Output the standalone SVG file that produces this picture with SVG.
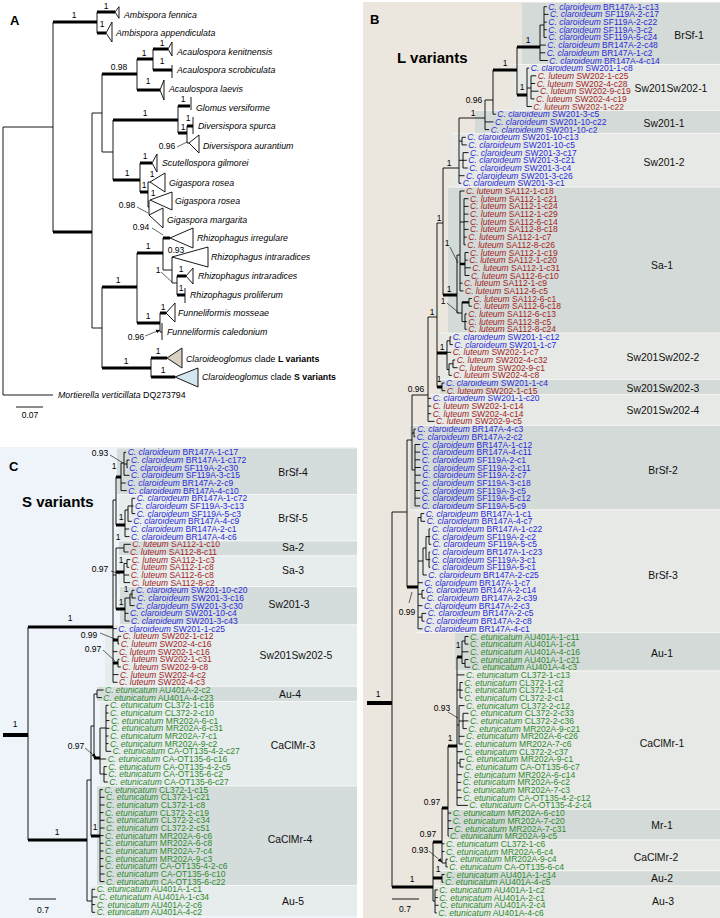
<svg xmlns="http://www.w3.org/2000/svg" width="720" height="918" viewBox="0 0 720 918">
<style>
.t{font-family:"Liberation Sans",Arial,Helvetica,sans-serif;font-size:8.5px}
.i{font-style:italic}
.cb{fill:#2a2ad8}.cr{fill:#a31f1f}.cg{fill:#2e8a2e}
.br{fill:none;stroke:#000;stroke-width:.9}
.tk{fill:none;stroke:#000;stroke-width:3}
.tk2{fill:none;stroke:#000;stroke-width:2.3}
.rt{fill:none;stroke:#000;stroke-width:4}
.ar{fill:none;stroke:#000;stroke-width:.6;marker-end:url(#ah)}
.sep{fill:none;stroke:#f6f6f4;stroke-width:1}
.s{font-family:"Liberation Sans",Arial,sans-serif;font-size:8.5px;text-anchor:middle;fill:#000}
.lab{font-family:"Liberation Sans",Arial,sans-serif;font-size:10.4px;text-anchor:middle;fill:#111}
.tx{font-family:"Liberation Sans",Arial,sans-serif;font-size:8.8px;fill:#000}
.pl{font-family:"Liberation Sans",Arial,sans-serif;font-weight:bold;font-size:13px}
.big{font-family:"Liberation Sans",Arial,sans-serif;font-weight:bold;font-size:15px}
.dk{fill:#d3dad7}.lt{fill:#e6e9e5}
.cdk{fill:#d5dcdc}.clt{fill:#e7ecec}
.tri{fill:#fff;stroke:#000;stroke-width:.9}
</style>
<defs>
<marker id="ah" viewBox="0 0 6 6" refX="6" refY="3" markerWidth="4" markerHeight="4" markerUnits="userSpaceOnUse" orient="auto"><path d="M0,0L6,3L0,6z"/></marker>
</defs>
<rect x="0" y="0" width="720" height="918" fill="#fff"/>
<rect x="363" y="2" width="357" height="916" fill="#ece7de"/>
<rect x="0" y="447" width="357" height="471" fill="#eef4f9"/>

<!-- PANEL A -->
<g id="panelA">
<text class="pl" x="10" y="25">A</text>
<g id="A-ambi-fen"><polygon class="tri" points="115,12 119,6.7 119,18.3"/><text class="tx i" x="124" y="18">Ambispora fennica</text></g>
<g id="A-ambi-app"><polygon class="tri" points="106,33 112,22 112,42"/><text class="tx i" x="116" y="36">Ambispora appendiculata</text></g>
<g id="A-acau-ken"><polygon class="tri" points="168,49 172,42 172,56"/><text class="tx i" x="177" y="55">Acaulospora kenitnensis</text></g>
<g id="A-acau-scr"><path class="br" d="M172 65V78"/><text class="tx i" x="177" y="73">Acaulospora scrobiculata</text></g>
<g id="A-acau-lae"><polygon class="tri" points="160,90 164,80 164,100"/><text class="tx i" x="169" y="92">Acaulospora laevis</text></g>
<g id="A-glom-ver"><path class="br" d="M191 97V110"/><text class="tx i" x="196" y="111">Glomus versiforme</text></g>
<g id="A-div-spu"><path class="br" d="M193 117V134"/><text class="tx i" x="198" y="129">Diversispora spurca</text></g>
<g id="A-div-aur"><polygon class="tri" points="189,143 199,135 199,153"/><text class="tx i" x="203" y="149">Diversispora aurantium</text></g>
<g id="A-scut-gil"><polygon class="tri" points="152,163 157,154 157,172"/><text class="tx i" x="162" y="166">Scutellospora gilmorei</text></g>
<g id="A-giga-ros1"><polygon class="tri" points="150,182 165,173 165,192"/><text class="tx i" x="169" y="186">Gigaspora rosea</text></g>
<g id="A-giga-ros2"><polygon class="tri" points="150,200 172,192 172,210"/><text class="tx i" x="175" y="204">Gigaspora rosea</text></g>
<g id="A-giga-mar"><polygon class="tri" points="149,215 163,208 163,228"/><text class="tx i" x="167" y="223">Gigaspora margarita</text></g>
<g id="A-rhiz-irr"><polygon class="tri" points="170,238 193,228 193,248"/><text class="tx i" x="197" y="241">Rhizophagus irregulare</text></g>
<g id="A-rhiz-int1"><polygon class="tri" points="172,257 208,247 208,267"/><text class="tx i" x="211" y="260">Rhizophagus intraradices</text></g>
<g id="A-rhiz-int2"><polygon class="tri" points="186,276 193,268 193,284"/><text class="tx i" x="198" y="279">Rhizophagus intraradices</text></g>
<g id="A-rhiz-pro"><path class="br" d="M185 288V303"/><text class="tx i" x="190" y="298">Rhizophagus proliferum</text></g>
<g id="A-funn-mos"><polygon class="tri" points="166,313 175,303 175,322"/><text class="tx i" x="178" y="316">Funneliformis mosseae</text></g>
<g id="A-funn-cal"><path class="br" d="M162 323V340"/><text class="tx i" x="167" y="335">Funneliformis caledonium</text></g>
<g id="A-clar-L"><polygon points="167,358 182,348 182,368" fill="#d9d0c3" stroke="#000" stroke-width=".9"/><text class="tx" x="186" y="362"><tspan class="i">Claroideoglomus</tspan> clade <tspan font-weight="bold">L variants</tspan></text></g>
<g id="A-clar-S"><polygon points="175,377 198,368 198,387" fill="#d4e7f1" stroke="#000" stroke-width=".9"/><text class="tx" x="202" y="380"><tspan class="i">Claroideoglomus</tspan> clade <tspan font-weight="bold">S variants</tspan></text></g>
<g id="A-mort"><text class="tx" x="58" y="398"><tspan class="i">Mortierella verticillata</tspan> DQ273794</text></g>
<g id="A-scale"><path class="br" d="M16 407H43"/><text class="s" x="30" y="418">0.07</text></g>
</g>

<!-- PANEL B bands/labels/leaves -->
<g id="panelB">
<text class="pl" x="370" y="24">B</text>
<text class="big" x="397" y="62.5">L variants</text>
<g id="B-BrSf-1"><rect class="dk" x="522" y="3" width="198" height="61"/><text class="lab" x="689" y="38.7">BrSf-1</text>
<text class="t cb" x="548.3" y="9.7"><tspan class="i">C. claroideum</tspan> BR147A-1-c13</text>
<text class="t cb" x="550" y="17.4"><tspan class="i">C. claroideum</tspan> SF119A-2-c17</text>
<text class="t cb" x="548.3" y="25.1"><tspan class="i">C. claroideum</tspan> SF119A-2-c22</text>
<text class="t cb" x="548.3" y="32.7"><tspan class="i">C. claroideum</tspan> SF119A-3-c2</text>
<text class="t cb" x="548.3" y="40.4"><tspan class="i">C. claroideum</tspan> SF119A-5-c24</text>
<text class="t cb" x="547.3" y="48.1"><tspan class="i">C. claroideum</tspan> BR147A-2-c48</text>
<text class="t cb" x="546.7" y="55.8"><tspan class="i">C. claroideum</tspan> BR147A-1-c2</text>
<text class="t cb" x="549.3" y="63.5"><tspan class="i">C. claroideum</tspan> BR147A-4-c14</text></g>
<g id="B-Sw201Sw202-1"><rect class="lt" x="513" y="64.8" width="207" height="45.2"/><text class="lab" x="671" y="91.7">Sw201Sw202-1</text>
<text class="t cb" x="530.7" y="71.1"><tspan class="i">C. claroideum</tspan> SW201-1-c8</text>
<text class="t cr" x="537.7" y="78.8"><tspan class="i">C. luteum</tspan> SW202-1-c25</text>
<text class="t cr" x="536.7" y="86.5"><tspan class="i">C. luteum</tspan> SW202-4-c28</text>
<text class="t cr" x="540" y="94.2"><tspan class="i">C. luteum</tspan> SW202-9-c19</text>
<text class="t cr" x="536" y="101.9"><tspan class="i">C. luteum</tspan> SW202-4-c19</text>
<text class="t cr" x="533.3" y="109.5"><tspan class="i">C. luteum</tspan> SW202-1-c22</text></g>
<g id="B-Sw201-1"><rect class="dk" x="475" y="110.6" width="245" height="22.4"/><text class="lab" x="664" y="126.7">Sw201-1</text>
<text class="t cb" x="497.3" y="117.2"><tspan class="i">C. claroideum</tspan> SW201-3-c5</text>
<text class="t cb" x="495" y="124.9"><tspan class="i">C. claroideum</tspan> SW201-10-c22</text>
<text class="t cb" x="490.7" y="132.6"><tspan class="i">C. claroideum</tspan> SW201-10-c2</text></g>
<g id="B-Sw201-2"><rect class="lt" x="452" y="133.6" width="268" height="53.2"/><text class="lab" x="664" y="165.7">Sw201-2</text>
<text class="t cb" x="467.3" y="140.3"><tspan class="i">C. claroideum</tspan> SW201-10-c13</text>
<text class="t cb" x="468.3" y="147.9"><tspan class="i">C. claroideum</tspan> SW201-10-c5</text>
<text class="t cb" x="470" y="155.6"><tspan class="i">C. claroideum</tspan> SW201-3-c17</text>
<text class="t cb" x="468.3" y="163.3"><tspan class="i">C. claroideum</tspan> SW201-3-c21</text>
<text class="t cb" x="469.3" y="171"><tspan class="i">C. claroideum</tspan> SW201-3-c4</text>
<text class="t cb" x="466" y="178.7"><tspan class="i">C. claroideum</tspan> SW201-3-c26</text>
<text class="t cb" x="462.7" y="186.3"><tspan class="i">C. claroideum</tspan> SW201-3-c1</text></g>
<g id="B-Sa-1"><rect class="dk" x="448" y="187.4" width="272" height="145.4"/><text class="lab" x="662" y="268.7">Sa-1</text>
<text class="t cr" x="466" y="194"><tspan class="i">C. luteum</tspan> SA112-1-c18</text>
<text class="t cr" x="470" y="201.7"><tspan class="i">C. luteum</tspan> SA112-1-c21</text>
<text class="t cr" x="470" y="209.4"><tspan class="i">C. luteum</tspan> SA112-1-c24</text>
<text class="t cr" x="470" y="217.1"><tspan class="i">C. luteum</tspan> SA112-1-c29</text>
<text class="t cr" x="470" y="224.7"><tspan class="i">C. luteum</tspan> SA112-6-c14</text>
<text class="t cr" x="470" y="232.4"><tspan class="i">C. luteum</tspan> SA112-8-c18</text>
<text class="t cr" x="468.3" y="240.1"><tspan class="i">C. luteum</tspan> SA112-1-c7</text>
<text class="t cr" x="467.3" y="247.8"><tspan class="i">C. luteum</tspan> SA112-8-c26</text>
<text class="t cr" x="470" y="255.5"><tspan class="i">C. luteum</tspan> SA112-1-c19</text>
<text class="t cr" x="469.3" y="263.1"><tspan class="i">C. luteum</tspan> SA112-1-c20</text>
<text class="t cr" x="472.3" y="270.8"><tspan class="i">C. luteum</tspan> SA112-1-c31</text>
<text class="t cr" x="471" y="278.5"><tspan class="i">C. luteum</tspan> SA112-6-c10</text>
<text class="t cr" x="464" y="286.2"><tspan class="i">C. luteum</tspan> SA112-1-c9</text>
<text class="t cr" x="465" y="293.9"><tspan class="i">C. luteum</tspan> SA112-6-c5</text>
<text class="t cr" x="473.3" y="301.5"><tspan class="i">C. luteum</tspan> SA112-6-c1</text>
<text class="t cr" x="473.3" y="309.2"><tspan class="i">C. luteum</tspan> SA112-6-c18</text>
<text class="t cr" x="468.3" y="316.9"><tspan class="i">C. luteum</tspan> SA112-6-c13</text>
<text class="t cr" x="468.3" y="324.6"><tspan class="i">C. luteum</tspan> SA112-8-c5</text>
<text class="t cr" x="468.3" y="332.3"><tspan class="i">C. luteum</tspan> SA112-8-c24</text></g>
<g id="B-Sw201Sw202-2"><rect class="lt" x="440" y="333.4" width="280" height="45.6"/><text class="lab" x="663" y="360.7">Sw201Sw202-2</text>
<text class="t cb" x="452.7" y="339.9"><tspan class="i">C. claroideum</tspan> SW201-1-c12</text>
<text class="t cb" x="454.3" y="347.6"><tspan class="i">C. claroideum</tspan> SW201-1-c7</text>
<text class="t cr" x="452.7" y="355.3"><tspan class="i">C. luteum</tspan> SW202-1-c7</text>
<text class="t cr" x="456.7" y="363"><tspan class="i">C. luteum</tspan> SW202-4-c32</text>
<text class="t cr" x="459" y="370.7"><tspan class="i">C. luteum</tspan> SW202-9-c1</text>
<text class="t cr" x="453.3" y="378.3"><tspan class="i">C. luteum</tspan> SW202-4-c8</text></g>
<g id="B-Sw201Sw202-3"><rect class="dk" x="440" y="379.6" width="280" height="14.8"/><text class="lab" x="663" y="391.7">Sw201Sw202-3</text>
<text class="t cb" x="446" y="386"><tspan class="i">C. claroideum</tspan> SW201-1-c4</text>
<text class="t cr" x="446.7" y="393.7"><tspan class="i">C. luteum</tspan> SW202-1-c15</text></g>
<g id="B-Sw201Sw202-4"><rect class="lt" x="430" y="395" width="290" height="30"/><text class="lab" x="663" y="413.7">Sw201Sw202-4</text>
<text class="t cb" x="432.7" y="401.4"><tspan class="i">C. claroideum</tspan> SW201-1-c20</text>
<text class="t cr" x="432.7" y="409.1"><tspan class="i">C. luteum</tspan> SW202-1-c14</text>
<text class="t cr" x="432.7" y="416.7"><tspan class="i">C. luteum</tspan> SW202-4-c14</text>
<text class="t cr" x="436" y="424.4"><tspan class="i">C. luteum</tspan> SW202-9-c5</text></g>
<g id="B-BrSf-2"><rect class="dk" x="410" y="425.6" width="310" height="84"/><text class="lab" x="663" y="473.7">BrSf-2</text>
<text class="t cb" x="417.3" y="432.1"><tspan class="i">C. claroideum</tspan> BR147A-4-c3</text>
<text class="t cb" x="416.7" y="439.8"><tspan class="i">C. claroideum</tspan> BR147A-2-c2</text>
<text class="t cb" x="421.7" y="447.5"><tspan class="i">C. claroideum</tspan> BR147A-1-c12</text>
<text class="t cb" x="421.7" y="455.1"><tspan class="i">C. claroideum</tspan> BR147A-4-c11</text>
<text class="t cb" x="421.7" y="462.8"><tspan class="i">C. claroideum</tspan> SF119A-2-c1</text>
<text class="t cb" x="422.3" y="470.5"><tspan class="i">C. claroideum</tspan> SF119A-2-c11</text>
<text class="t cb" x="422.3" y="478.2"><tspan class="i">C. claroideum</tspan> SF119A-2-c7</text>
<text class="t cb" x="421.7" y="485.9"><tspan class="i">C. claroideum</tspan> SF119A-3-c18</text>
<text class="t cb" x="421.7" y="493.5"><tspan class="i">C. claroideum</tspan> SF119A-3-c5</text>
<text class="t cb" x="421.7" y="501.2"><tspan class="i">C. claroideum</tspan> SF119A-5-c12</text>
<text class="t cb" x="421.7" y="508.9"><tspan class="i">C. claroideum</tspan> SF119A-5-c9</text></g>
<g id="B-BrSf-3"><rect class="lt" x="415" y="510.2" width="305" height="122"/><text class="lab" x="663" y="578.7">BrSf-3</text>
<text class="t cb" x="425.7" y="516.6"><tspan class="i">C. claroideum</tspan> BR147A-1-c1</text>
<text class="t cb" x="426.7" y="524.3"><tspan class="i">C. claroideum</tspan> BR147A-4-c7</text>
<text class="t cb" x="431.7" y="531.9"><tspan class="i">C. claroideum</tspan> BR147A-1-c22</text>
<text class="t cb" x="431.7" y="539.6"><tspan class="i">C. claroideum</tspan> SF119A-2-c2</text>
<text class="t cb" x="432.7" y="547.3"><tspan class="i">C. claroideum</tspan> SF119A-5-c5</text>
<text class="t cb" x="431.7" y="555"><tspan class="i">C. claroideum</tspan> BR147A-1-c23</text>
<text class="t cb" x="431.7" y="562.7"><tspan class="i">C. claroideum</tspan> SF119A-3-c1</text>
<text class="t cb" x="431.7" y="570.3"><tspan class="i">C. claroideum</tspan> SF119A-5-c1</text>
<text class="t cb" x="428.3" y="578"><tspan class="i">C. claroideum</tspan> BR147A-2-c25</text>
<text class="t cb" x="424.3" y="585.7"><tspan class="i">C. claroideum</tspan> BR147A-1-c7</text>
<text class="t cb" x="425.7" y="593.4"><tspan class="i">C. claroideum</tspan> BR147A-2-c14</text>
<text class="t cb" x="426.7" y="601.1"><tspan class="i">C. claroideum</tspan> BR147A-2-c39</text>
<text class="t cb" x="424" y="608.7"><tspan class="i">C. claroideum</tspan> BR147A-2-c3</text>
<text class="t cb" x="427.7" y="616.4"><tspan class="i">C. claroideum</tspan> BR147A-2-c5</text>
<text class="t cb" x="426" y="624.1"><tspan class="i">C. claroideum</tspan> BR147A-2-c8</text>
<text class="t cb" x="424" y="631.8"><tspan class="i">C. claroideum</tspan> BR147A-4-c1</text></g>
<g id="B-Au-1"><rect class="dk" x="455" y="633" width="265" height="37.6"/><text class="lab" x="662" y="656.7">Au-1</text>
<text class="t cg" x="470" y="639.5"><tspan class="i">C. etunicatum</tspan> AU401A-1-c11</text>
<text class="t cg" x="470" y="647.1"><tspan class="i">C. etunicatum</tspan> AU401A-1-c4</text>
<text class="t cg" x="470" y="654.8"><tspan class="i">C. etunicatum</tspan> AU401A-4-c16</text>
<text class="t cg" x="470" y="662.5"><tspan class="i">C. etunicatum</tspan> AU401A-1-c21</text>
<text class="t cg" x="471.7" y="670.2"><tspan class="i">C. etunicatum</tspan> AU401A-4-c3</text></g>
<g id="B-CaClMr-1"><rect class="lt" x="455" y="671.4" width="265" height="137.6"/><text class="lab" x="662" y="746.7">CaClMr-1</text>
<text class="t cg" x="466" y="677.9"><tspan class="i">C. etunicatum</tspan> CL372-1-c13</text>
<text class="t cg" x="464.3" y="685.5"><tspan class="i">C. etunicatum</tspan> CL372-1-c2</text>
<text class="t cg" x="464.3" y="693.2"><tspan class="i">C. etunicatum</tspan> CL372-1-c4</text>
<text class="t cg" x="464.3" y="700.9"><tspan class="i">C. etunicatum</tspan> CL372-2-c1</text>
<text class="t cg" x="466" y="708.6"><tspan class="i">C. etunicatum</tspan> CL372-2-c12</text>
<text class="t cg" x="470" y="716.3"><tspan class="i">C. etunicatum</tspan> CL372-2-c33</text>
<text class="t cg" x="470" y="723.9"><tspan class="i">C. etunicatum</tspan> CL372-2-c36</text>
<text class="t cg" x="468.3" y="731.6"><tspan class="i">C. etunicatum</tspan> MR202A-9-c21</text>
<text class="t cg" x="466" y="739.3"><tspan class="i">C. etunicatum</tspan> MR202A-6-c26</text>
<text class="t cg" x="464.3" y="747"><tspan class="i">C. etunicatum</tspan> MR202A-7-c6</text>
<text class="t cg" x="464.3" y="754.7"><tspan class="i">C. etunicatum</tspan> CL372-2-c37</text>
<text class="t cg" x="466" y="762.3"><tspan class="i">C. etunicatum</tspan> MR202A-9-c1</text>
<text class="t cg" x="465" y="770"><tspan class="i">C. etunicatum</tspan> CA-OT135-6-c7</text>
<text class="t cg" x="463.3" y="777.7"><tspan class="i">C. etunicatum</tspan> MR202A-6-c14</text>
<text class="t cg" x="462.7" y="785.4"><tspan class="i">C. etunicatum</tspan> MR202A-6-c2</text>
<text class="t cg" x="462.7" y="793.1"><tspan class="i">C. etunicatum</tspan> MR202A-7-c3</text>
<text class="t cg" x="463.3" y="800.7"><tspan class="i">C. etunicatum</tspan> CA-OT135-4-2-c12</text>
<text class="t cg" x="469.3" y="808.4"><tspan class="i">C. etunicatum</tspan> CA-OT135-4-2-c4</text></g>
<g id="B-Mr-1"><rect class="dk" x="448" y="809.6" width="272" height="30"/><text class="lab" x="662" y="828.7">Mr-1</text>
<text class="t cg" x="452.7" y="816.1"><tspan class="i">C. etunicatum</tspan> MR202A-6-c10</text>
<text class="t cg" x="452.7" y="823.8"><tspan class="i">C. etunicatum</tspan> MR202A-7-c20</text>
<text class="t cg" x="454.3" y="831.5"><tspan class="i">C. etunicatum</tspan> MR202A-7-c31</text>
<text class="t cg" x="450" y="839.1"><tspan class="i">C. etunicatum</tspan> MR202A-9-c5</text></g>
<g id="B-CaClMr-2"><rect class="lt" x="440" y="840.3" width="280" height="30"/><text class="lab" x="656" y="860.7">CaClMr-2</text>
<text class="t cg" x="446" y="846.8"><tspan class="i">C. etunicatum</tspan> CL372-1-c6</text>
<text class="t cg" x="446" y="854.5"><tspan class="i">C. etunicatum</tspan> MR202A-6-c4</text>
<text class="t cg" x="449.3" y="862.2"><tspan class="i">C. etunicatum</tspan> MR202A-9-c4</text>
<text class="t cg" x="449.3" y="869.9"><tspan class="i">C. etunicatum</tspan> CA-OT135-6-c4</text></g>
<g id="B-Au-2"><rect class="dk" x="440" y="871" width="280" height="14.7"/><text class="lab" x="662" y="881.7">Au-2</text>
<text class="t cg" x="446" y="877.5"><tspan class="i">C. etunicatum</tspan> AU401A-1-c14</text>
<text class="t cg" x="445" y="885.2"><tspan class="i">C. etunicatum</tspan> AU401A-4-c5</text></g>
<g id="B-Au-3"><rect class="lt" x="432" y="886.4" width="288" height="31.6"/><text class="lab" x="663" y="904.7">Au-3</text>
<text class="t cg" x="439.3" y="892.9"><tspan class="i">C. etunicatum</tspan> AU401A-1-c2</text>
<text class="t cg" x="439.3" y="900.6"><tspan class="i">C. etunicatum</tspan> AU401A-2-c1</text>
<text class="t cg" x="440" y="908.3"><tspan class="i">C. etunicatum</tspan> AU401A-2-c4</text>
<text class="t cg" x="438.3" y="915.9"><tspan class="i">C. etunicatum</tspan> AU401A-4-c6</text></g>
<g id="B-scale"><path class="br" d="M392 899H419"/><text class="s" x="405" y="912">0.7</text></g>
</g>

<!-- PANEL C -->
<g id="panelC">
<text class="pl" x="9" y="471">C</text>
<text class="big" x="22" y="507">S variants</text>
<g id="C-BrSf-4"><rect class="cdk" x="117" y="448.5" width="240" height="45.7"/><text class="lab" x="293" y="475.7">BrSf-4</text>
<text class="t cb" x="127.7" y="455.3"><tspan class="i">C. claroideum</tspan> BR147A-1-c17</text>
<text class="t cb" x="131" y="463"><tspan class="i">C. claroideum</tspan> BR147A-1-c172</text>
<text class="t cb" x="129.3" y="470.6"><tspan class="i">C. claroideum</tspan> SF119A-2-c30</text>
<text class="t cb" x="131" y="478.3"><tspan class="i">C. claroideum</tspan> SF119A-3-c15</text>
<text class="t cb" x="127.3" y="486"><tspan class="i">C. claroideum</tspan> BR147A-2-c9</text>
<text class="t cb" x="128.3" y="493.6"><tspan class="i">C. claroideum</tspan> BR147A-4-c10</text></g>
<g id="C-BrSf-5"><rect class="clt" x="119" y="494.8" width="238" height="45.7"/><text class="lab" x="293" y="521.7">BrSf-5</text>
<text class="t cb" x="136.7" y="501.3"><tspan class="i">C. claroideum</tspan> BR147A-1-c72</text>
<text class="t cb" x="135" y="509"><tspan class="i">C. claroideum</tspan> SF119A-3-c13</text>
<text class="t cb" x="136.7" y="516.6"><tspan class="i">C. claroideum</tspan> SF119A-5-c3</text>
<text class="t cb" x="133.3" y="524.3"><tspan class="i">C. claroideum</tspan> BR147A-4-c9</text>
<text class="t cb" x="130.7" y="532"><tspan class="i">C. claroideum</tspan> BR147A-2-c1</text>
<text class="t cb" x="131" y="539.6"><tspan class="i">C. claroideum</tspan> BR147A-4-c6</text></g>
<g id="C-Sa-2"><rect class="cdk" x="119" y="541.1" width="238" height="14.5"/><text class="lab" x="293" y="550.7">Sa-2</text>
<text class="t cr" x="132.3" y="547.3"><tspan class="i">C. luteum</tspan> SA112-1-c10</text>
<text class="t cr" x="130" y="555"><tspan class="i">C. luteum</tspan> SA112-8-c11</text></g>
<g id="C-Sa-3"><rect class="clt" x="119" y="556.1" width="238" height="30.2"/><text class="lab" x="293" y="573.7">Sa-3</text>
<text class="t cr" x="131.7" y="562.6"><tspan class="i">C. luteum</tspan> SA112-1-c3</text>
<text class="t cr" x="130.7" y="570.3"><tspan class="i">C. luteum</tspan> SA112-1-c8</text>
<text class="t cr" x="130.7" y="578"><tspan class="i">C. luteum</tspan> SA112-6-c8</text>
<text class="t cr" x="131.7" y="585.6"><tspan class="i">C. luteum</tspan> SA112-8-c2</text></g>
<g id="C-Sw201-3"><rect class="cdk" x="120" y="586.8" width="237" height="37.7"/><text class="lab" x="289" y="607.7">Sw201-3</text>
<text class="t cb" x="136" y="593.3"><tspan class="i">C. claroideum</tspan> SW201-10-c20</text>
<text class="t cb" x="137.3" y="601"><tspan class="i">C. claroideum</tspan> SW201-3-c16</text>
<text class="t cb" x="136" y="608.6"><tspan class="i">C. claroideum</tspan> SW201-3-c30</text>
<text class="t cb" x="130" y="616.3"><tspan class="i">C. claroideum</tspan> SW201-10-c4</text>
<text class="t cb" x="131" y="624"><tspan class="i">C. claroideum</tspan> SW201-3-c43</text></g>
<g id="C-Sw201Sw202-5"><rect class="clt" x="105" y="625.1" width="252" height="60.8"/><text class="lab" x="296" y="658.7">Sw201Sw202-5</text>
<text class="t cb" x="118.3" y="631.6"><tspan class="i">C. claroideum</tspan> SW201-1-c25</text>
<text class="t cr" x="122.7" y="639.3"><tspan class="i">C. luteum</tspan> SW202-1-c12</text>
<text class="t cr" x="120.7" y="647"><tspan class="i">C. luteum</tspan> SW202-4-c16</text>
<text class="t cr" x="119" y="654.6"><tspan class="i">C. luteum</tspan> SW202-1-c16</text>
<text class="t cr" x="121" y="662.3"><tspan class="i">C. luteum</tspan> SW202-1-c31</text>
<text class="t cr" x="122.3" y="670"><tspan class="i">C. luteum</tspan> SW202-9-c8</text>
<text class="t cr" x="120" y="677.6"><tspan class="i">C. luteum</tspan> SW202-4-c2</text>
<text class="t cr" x="119" y="685.3"><tspan class="i">C. luteum</tspan> SW202-4-c3</text></g>
<g id="C-Au-4"><rect class="cdk" x="97" y="686.5" width="260" height="14.7"/><text class="lab" x="290" y="697.7">Au-4</text>
<text class="t cg" x="105" y="693"><tspan class="i">C. etunicatum</tspan> AU401A-2-c2</text>
<text class="t cg" x="103.3" y="700.6"><tspan class="i">C. etunicatum</tspan> AU401A-4-c23</text></g>
<g id="C-CaClMr-3"><rect class="clt" x="100" y="701.8" width="257" height="83.7"/><text class="lab" x="293" y="748.7">CaClMr-3</text>
<text class="t cg" x="110" y="708.3"><tspan class="i">C. etunicatum</tspan> CL372-1-c16</text>
<text class="t cg" x="110" y="716"><tspan class="i">C. etunicatum</tspan> CL372-2-c10</text>
<text class="t cg" x="111" y="723.6"><tspan class="i">C. etunicatum</tspan> MR202A-6-c1</text>
<text class="t cg" x="111" y="731.3"><tspan class="i">C. etunicatum</tspan> MR202A-6-c31</text>
<text class="t cg" x="110" y="739"><tspan class="i">C. etunicatum</tspan> MR202A-7-c1</text>
<text class="t cg" x="110" y="746.6"><tspan class="i">C. etunicatum</tspan> MR202A-9-c2</text>
<text class="t cg" x="112.7" y="754.3"><tspan class="i">C. etunicatum</tspan> CA-OT135-4-2-c27</text>
<text class="t cg" x="107.7" y="762"><tspan class="i">C. etunicatum</tspan> CA-OT135-6-c16</text>
<text class="t cg" x="108.3" y="769.6"><tspan class="i">C. etunicatum</tspan> CA-OT135-4-2-c5</text>
<text class="t cg" x="108.3" y="777.3"><tspan class="i">C. etunicatum</tspan> CA-OT135-6-c2</text>
<text class="t cg" x="109.3" y="785"><tspan class="i">C. etunicatum</tspan> CA-OT135-6-c27</text></g>
<g id="C-CaClMr-4"><rect class="cdk" x="97" y="786.1" width="260" height="99.1"/><text class="lab" x="290" y="842.7">CaClMr-4</text>
<text class="t cg" x="104.3" y="792.6"><tspan class="i">C. etunicatum</tspan> CL372-1-c15</text>
<text class="t cg" x="106" y="800.3"><tspan class="i">C. etunicatum</tspan> CL372-1-c21</text>
<text class="t cg" x="106" y="808"><tspan class="i">C. etunicatum</tspan> CL372-1-c8</text>
<text class="t cg" x="105" y="815.6"><tspan class="i">C. etunicatum</tspan> CL372-2-c19</text>
<text class="t cg" x="106" y="823.3"><tspan class="i">C. etunicatum</tspan> CL372-2-c34</text>
<text class="t cg" x="106" y="831"><tspan class="i">C. etunicatum</tspan> CL372-2-c51</text>
<text class="t cg" x="105" y="838.6"><tspan class="i">C. etunicatum</tspan> MR202A-6-c6</text>
<text class="t cg" x="105" y="846.3"><tspan class="i">C. etunicatum</tspan> MR202A-6-c8</text>
<text class="t cg" x="105" y="854"><tspan class="i">C. etunicatum</tspan> MR202A-7-c4</text>
<text class="t cg" x="105" y="861.6"><tspan class="i">C. etunicatum</tspan> MR202A-9-c3</text>
<text class="t cg" x="105" y="869.3"><tspan class="i">C. etunicatum</tspan> CA-OT135-4-2-c6</text>
<text class="t cg" x="106" y="877"><tspan class="i">C. etunicatum</tspan> CA-OT135-6-c10</text>
<text class="t cg" x="106" y="884.6"><tspan class="i">C. etunicatum</tspan> CA-OT135-6-c22</text></g>
<g id="C-Au-5"><rect class="clt" x="90" y="885.8" width="267" height="30.2"/><text class="lab" x="293" y="904.7">Au-5</text>
<text class="t cg" x="96.7" y="892.3"><tspan class="i">C. etunicatum</tspan> AU401A-1-c1</text>
<text class="t cg" x="99" y="900"><tspan class="i">C. etunicatum</tspan> AU401A-1-c34</text>
<text class="t cg" x="96.7" y="907.6"><tspan class="i">C. etunicatum</tspan> AU401A-2-c6</text>
<text class="t cg" x="96.7" y="915.3"><tspan class="i">C. etunicatum</tspan> AU401A-4-c2</text></g>
<g id="C-scale"><path class="br" d="M29 899H56"/><text class="s" x="43" y="913">0.7</text></g>
</g>

<!-- band separators -->
<g id="separators">
<path class="sep" d="M513 64.4H720M475 110.3H720M452 133.3H720M448 187H720M440 333.1H720M440 379.3H720M430 394.7H720M410 425.3H720M410 509.9H720M415 632.6H720M455 671H720M448 809.3H720M440 840H720M440 870.7H720M432 886H720"/>
<path class="sep" d="M117 494.5H357M119 540.8H357M119 555.8H357M119 586.5H357M105 624.8H357M97 686.2H357M97 701.5H357M97 785.8H357M90 885.5H357"/>
</g>

<!-- CONNECTORS -->
<g id="connectors">
<path class="br" d="M3 127V395M3 127H53M3 395H53M53 22V232M97 12V33M92 113V328M92 113H102M92 328H102M102 74V152M102 152H113M137 59V90M153 49V70M113 120V180M178 106V133M187 126V143M187 143H189M140 163V192M148 182V207M148 182H150M148 207H149M149 200V215M102 287V368M137 253V323M163 238V270M163 270H172M172 257V283M172 283H177M177 276V295M160 313V332M160 332H162M151 358V377"/>
<path class="tk" d="M53 22H97M53 232H92M97 12H115M97 33H106M102 74H137M137 59H153M137 90H160M153 49H168M153 70H172M113 120H178M113 180H140M178 106H190M178 133H187M187 126H193M140 163H152M140 192H148M102 287H137M102 368H151M137 253H163M137 323H160M163 238H170M177 276H186M177 295H185M160 313H166M151 358H167M151 377H175"/>

<path class="br" d="M392 512V887M392 512H407M407 440V587M407 440H412M412 395V470M412 395H428M412 433H414M412 470H415M414 429.1V436.8M414 429.1H415.8M414 436.8H415.2M415 444.5V505.9M415 444.5H420.2M415 452.1H420.2M415 459.8H420.2M415 467.5H420.8M415 475.2H420.8M415 482.9H420.2M415 490.5H420.2M415 498.2H420.2M415 505.9H420.2M428 317V421.4M428 317H437M428 398.4H431.2M428 406.1H431.2M428 413.7H431.2M428 421.4H434.5M437 223V386.9M437 223H443M442 383V390.7M442 383H444.5M442 390.7H445.2M447 340.8V369.5M450 336.9V344.6M447 340.8H450M450 336.9H451.2M450 344.6H452.8M447 352.3H451.2M447 369.5H449M449 363.8V375.3M449 363.8H453M453 360V367.7M453 360H455.2M453 367.7H457.5M449 375.3H451.8M443 168V295M443 168H459M459 118V183.3M459 118H485M459 141.1H462M462 137.3V144.9M462 137.3H465.8M462 144.9H466.8M459 160.3H463M463 152.6V168M463 152.6H468.5M463 160.3H466.8M463 168H467.8M459 175.7H464.5M459 183.3H461.2M485 100V129.6M485 100H493M485 121.9H493.5M485 129.6H489.2M493 70V114.2M493 114.2H495.8M517 47V95M540 25V60.5M540 25H544M544 6.7V37.4M544 6.7H546.8M544 14.4H548.5M544 22.1H546.8M544 29.7H546.8M544 37.4H546.8M540 45.1H545.8M540 52.8H545.2M540 60.5H547.8M527 68.1V106.5M527 68.1H529.2M527 88H531M531 75.8V98.9M531 75.8H536.2M531 83.5H535.2M531 91.2H538.5M531 98.9H534.5M527 106.5H531.8"/>
<path class="br" d="M457 255V313M457 255H460M457 313H462M460 191V290.9M460 191H464.5M460 222H464M464 198.7V244.8M464 198.7H468.5M464 206.4H468.5M464 214.1H468.5M464 221.7H468.5M464 229.4H468.5M464 237.1H466.8M464 244.8H465.8M465 252.5V275.5M465 252.5H468.5M465 260.1H467.8M465 267.8H470.8M465 275.5H469.5M460 283.2H462.5M460 290.9H463.5M462 302.3V321.6M469 298.5V306.2M469 298.5H471.8M469 306.2H471.8M462 321.6H465M465 313.9V329.3M465 313.9H466.8M465 321.6H466.8M465 329.3H466.8"/>
<path class="br" d="M418 517.5V628.8M418 517.5H421M421 513.6V521.3M421 513.6H424.2M421 521.3H425.2M418 561H423M423 548V575M423 548H426M426 536.6V559.7M426 536.6H429M429 528.9V544.3M429 528.9H430.2M429 536.6H430.2M429 544.3H431.2M426 559.7H429M429 552V567.3M429 552H430.2M429 559.7H430.2M429 567.3H430.2M423 575H426.8M418 582.7H422.8M418 594.2H422M422 590.4V598.1M422 590.4H424.2M422 598.1H425.2M418 605.7H422.5M418 617.2H422M422 613.4V621.1M422 613.4H426.2M422 621.1H424.5M418 628.8H422.5"/>
<path class="br" d="M433 842V901M433 901H435M435 889.9V912.9M435 889.9H437.8M435 897.6H437.8M435 905.3H438.5M435 912.9H436.8M442 874.5V882.2M442 874.5H444.5M442 882.2H443.5M442 808V863M442 843.8H444.5M442 851.5H444.5M442 863H446M446 859.2V866.9M446 859.2H447.8M446 866.9H447.8M448 746V836.1M448 813.1H451.2M448 820.8H451.2M448 828.5H452.8M448 836.1H448.8M457 657V805.4M462 641V663.5M462 641H465M465 636.5V644.1M465 636.5H468.5M465 644.1H468.5M462 651.8H468.5M462 663.5H465M465 659.5V667.2M465 659.5H468.5M465 667.2H470.2M457 674.9H464.5M457 690H460M460 682.5V697.9M460 682.5H462.8M460 690.2H462.8M460 697.9H462.8M457 725H459M459 705.6V744M459 705.6H464.5M459 721H463M463 713.3V728.6M463 713.3H468.5M463 720.9H468.5M463 728.6H466.8M459 736.3H464.5M459 744H462.8M457 751.7H462.8M457 763H460M460 759.3V767M460 759.3H464.5M460 767H463.5M457 774.7H461.8M457 782.4H461.2M457 790.1H461.2M457 797.7H461.8M457 805.4H467.8"/>
<path class="tk" d="M493 70H517M517 47H540M517 95H527M443 295H457M437 353H447M437 386.9H442M407 587H418M457 657H462M448 746H457M433 842H442M442 808H448M433 878H442M392 887H433"/>
<path class="tk2" d="M460 264H465M462 302.3H469"/>
<path class="rt" d="M367 703H392"/>

<path class="br" d="M28 627V840M113 500V682.3M113 500H116M113 575H116M113 628.6H116.8M118 636.3V644M118 636.3H121.2M118 644H119.2M113 651.6H117.5M118 659.3V667M118 659.3H119.5M118 667H120.8M113 674.6H118.5M113 682.3H117.5M116 477V525M121 463V490.6M121 463H124M124 452.3V475.3M124 452.3H126.2M124 464H127M127 460V467.6M127 460H129.5M127 467.6H127.8M124 475.3H129.5M121 483H125.8M121 490.6H126.8M125 510V536.6M125 510H128M128 506V521.3M128 506H132M132 498.3V513.6M132 498.3H135.2M132 506H133.5M132 513.6H135.2M128 521.3H131.8M125 529H129.2M125 536.6H129.5M116 548V609M116 548H124M124 544.3V552M124 544.3H130.8M124 552H128.5M124 563.5V582.6M124 563.5H127M127 559.6V567.3M127 559.6H130.2M127 567.3H129.2M124 575H129.2M124 582.6H130.2M125 598V621M125 598H130M130 594V605.6M130 594H132M132 590.3V598M132 590.3H134.5M132 598H135.8M130 605.6H134.5M125 613.3H128.5M125 621H129.5"/>
<path class="br" d="M87 780V901M87 780H91M87 901H92M92 889.3V912.3M92 889.3H95.2M92 897H97.5M92 904.6H95.2M92 912.3H95.2M91 726V836M91 726H94M100 789.6V881.6M100 789.6H102.8M100 797.3H104.5M100 805H104.5M100 812.6H103.5M100 820.3H104.5M100 828H104.5M100 835.6H103.5M100 843.3H103.5M100 851H103.5M100 858.6H103.5M100 866.3H103.5M100 874H104.5M100 881.6H104.5M94 694V758M94 694H97M97 690V697.6M97 690H103.5M97 697.6H101.8M100 728V774M100 728H106M106 705.3V751.3M106 705.3H108.5M106 713H108.5M106 720.6H109.5M106 728.3H109.5M106 736H108.5M106 743.6H108.5M106 751.3H111.2M100 759H106.2M100 774H104M104 766.6V782M104 766.6H106.8M104 774.3H106.8M104 782H107.8"/>
<path class="tk" d="M28 627H113M28 840H87M116 477H121M116 525H125M116 572H124M116 609H125M113 640H118M113 663H118M91 836H100M94 758H100"/>
<path class="rt" d="M3 735H28"/>

<path class="ar" d="M177 147L187 142M137 207L148 213M152 228L163 235M161 272L172 282M145 336L160 330"/>
<path class="ar" d="M450 247L458 263M447 303L459 313M409 603L412 592M448 712L458 718M429 851L442 862"/>
<path class="ar" d="M110 455L123 463M111 571L120 574M100 633L115 639M103 650L115 661M85 748L96 757"/>
</g>

<!-- SUPPORT VALUES -->
<g id="support">
<text class="s" x="74" y="18">1</text><text class="s" x="106" y="9">1</text><text class="s" x="102" y="27">1</text>
<text class="s" x="119" y="70">0.98</text><text class="s" x="144" y="56">1</text><text class="s" x="162" y="46">1</text>
<text class="s" x="162" y="64">1</text><text class="s" x="148" y="84">1</text><text class="s" x="145" y="116">1</text>
<text class="s" x="183" y="102">1</text><text class="s" x="188" y="121">1</text><text class="s" x="183" y="130">1</text>
<text class="s" x="167" y="149">0.96</text><text class="s" x="127" y="176">1</text><text class="s" x="145" y="159">1</text>
<text class="s" x="144" y="188">1</text><text class="s" x="152" y="177">1</text><text class="s" x="153" y="196">1</text>
<text class="s" x="127" y="208">0.98</text><text class="s" x="141" y="230">0.94</text><text class="s" x="148" y="249">1</text>
<text class="s" x="176" y="253">0.93</text><text class="s" x="158" y="273">1</text><text class="s" x="181" y="272">1</text>
<text class="s" x="181" y="291">1</text><text class="s" x="118" y="283">1</text><text class="s" x="163" y="310">1</text>
<text class="s" x="148" y="319">1</text><text class="s" x="136" y="340">0.96</text><text class="s" x="126" y="364">1</text>
<text class="s" x="158" y="354">1</text><text class="s" x="163" y="373">1</text>

<text class="s" x="528" y="43">1</text><text class="s" x="505" y="66">1</text><text class="s" x="522" y="90">1</text>
<text class="s" x="474" y="103">0.96</text><text class="s" x="473" y="116">1</text><text class="s" x="449" y="166">1</text>
<text class="s" x="439" y="221">1</text><text class="s" x="449" y="292">1</text><text class="s" x="447" y="246">1</text>
<text class="s" x="443" y="304">1</text><text class="s" x="432" y="315">1</text><text class="s" x="442" y="350">1</text>
<text class="s" x="439" y="382">1</text><text class="s" x="416" y="392">0.96</text><text class="s" x="407" y="615">0.99</text>
<text class="s" x="378" y="697">1</text><text class="s" x="442" y="711">0.93</text><text class="s" x="450" y="741">1</text>
<text class="s" x="458" y="648">1</text><text class="s" x="432" y="805">0.97</text><text class="s" x="428" y="837">0.97</text>
<text class="s" x="420" y="853">0.93</text><text class="s" x="438" y="872">1</text><text class="s" x="412" y="882">1</text>

<text class="s" x="100" y="456">0.93</text><text class="s" x="114" y="469">1</text><text class="s" x="121" y="520">1</text>
<text class="s" x="118" y="540">1</text><text class="s" x="121" y="563">1</text><text class="s" x="100" y="572">0.97</text>
<text class="s" x="126" y="592">1</text><text class="s" x="121" y="605">1</text><text class="s" x="70" y="621">1</text>
<text class="s" x="89" y="638">0.99</text><text class="s" x="93" y="652">0.97</text><text class="s" x="15" y="727">1</text>
<text class="s" x="76" y="749">0.97</text><text class="s" x="57" y="835">1</text><text class="s" x="95" y="830">1</text>
</g>
</svg>
